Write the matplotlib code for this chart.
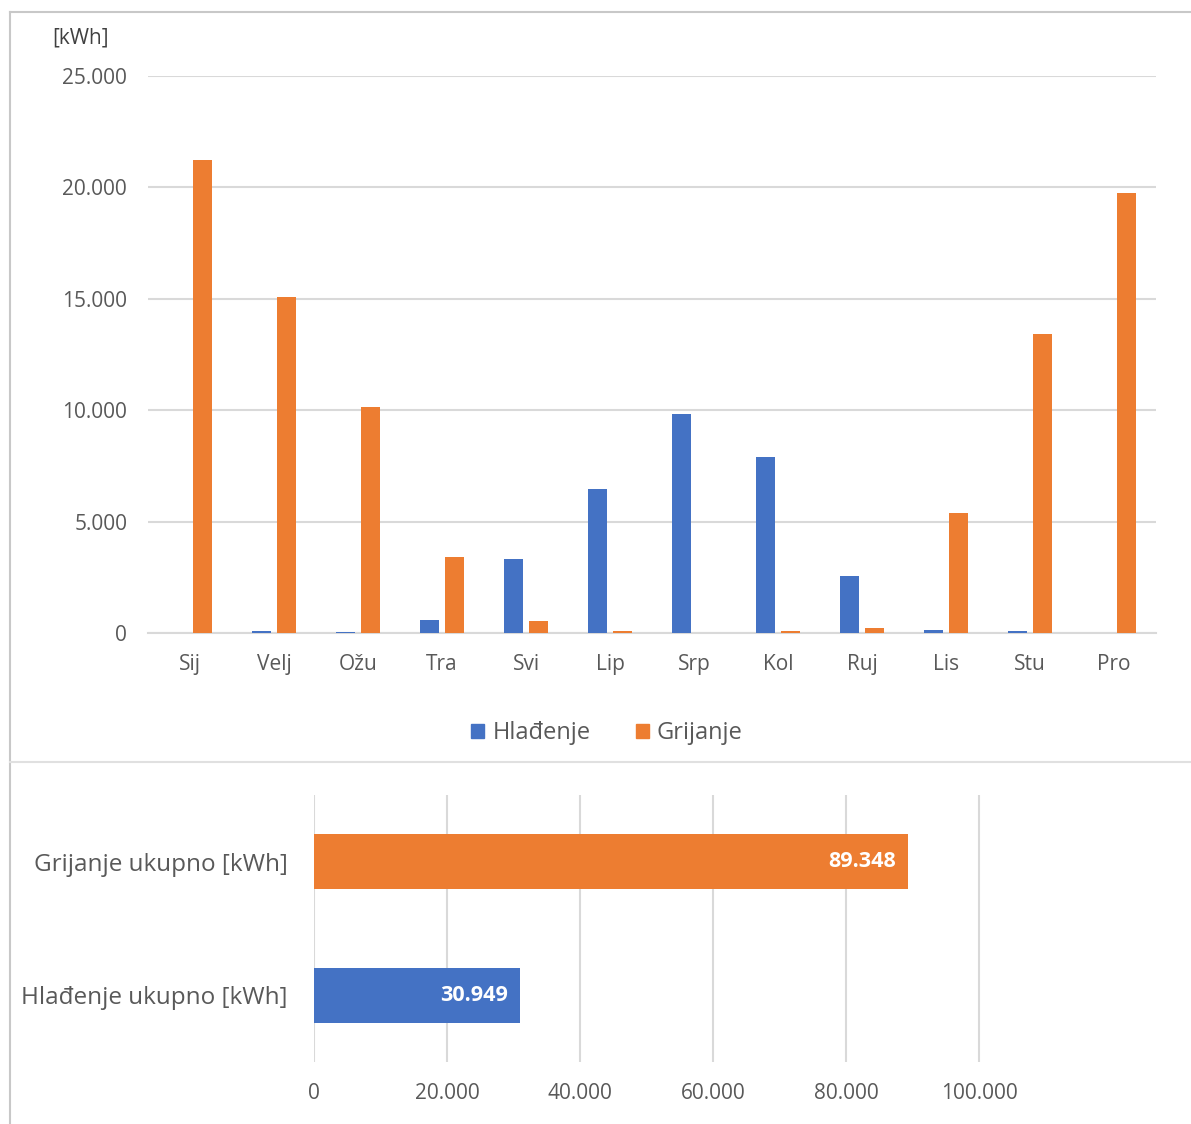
import numpy as np
import matplotlib
matplotlib.use("Agg")
import matplotlib.pyplot as plt
from matplotlib.patches import Patch
from matplotlib.lines import Line2D
from matplotlib.ticker import FuncFormatter

plt.rcParams["font.family"] = ["Open Sans", "DejaVu Sans"]

# podaci
mjeseci = ["Sij", "Velj", "Ožu", "Tra", "Svi", "Lip", "Srp", "Kol", "Ruj", "Lis", "Stu", "Pro"]
hladenje = [0, 90, 30, 580, 3320, 6450, 9820, 7880, 2560, 130, 80, 0]
grijanje = [21230, 15080, 10140, 3410, 540, 90, 0, 90, 220, 5390, 13420, 19750]
ukupno_labels = ["Hlađenje ukupno [kWh]", "Grijanje ukupno [kWh]"]
ukupno = [30949, 89348]

plava = "#4472C4"
narancasta = "#ED7D31"
siva_txt = "#595959"
grid_c = "#D9D9D9"


def tocka(x, pos=None):
    return f"{x:,.0f}".replace(",", ".")


fig = plt.figure(figsize=(11.91, 11.24), dpi=100)

# okvir
fig.add_artist(Line2D([10 / 1191, 1], [1 - 12 / 1124] * 2, color="#C8C8C8", lw=1.5))
fig.add_artist(Line2D([10 / 1191] * 2, [0, 1 - 12 / 1124], color="#C8C8C8", lw=1.5))
fig.add_artist(Line2D([10 / 1191, 1], [1 - 762 / 1124] * 2, color="#E0E0E0", lw=1.5))

# gornji graf
ax = fig.add_axes([148 / 1191, 1 - 633 / 1124, 1008 / 1191, 557 / 1124])
x = np.arange(len(mjeseci))
w = 0.22
ax.bar(x - 0.15, hladenje, w, color=plava, zorder=3)
ax.bar(x + 0.15, grijanje, w, color=narancasta, zorder=3)
ax.set_xlim(-0.5, len(mjeseci) - 0.5)
ax.set_ylim(0, 25000)
ax.set_yticks(np.arange(0, 25001, 5000))
ax.yaxis.set_major_formatter(FuncFormatter(tocka))
ax.set_xticks(x)
ax.set_xticklabels(mjeseci)
ax.grid(axis="y", color=grid_c, lw=1.5, zorder=0)
for s in ["top", "right", "left"]:
    ax.spines[s].set_visible(False)
ax.spines["bottom"].set_color(grid_c)
ax.spines["bottom"].set_linewidth(1.5)
ax.tick_params(axis="both", length=0, labelsize=15, colors=siva_txt)
ax.tick_params(axis="y", pad=15)
ax.tick_params(axis="x", pad=15)
fig.text(52 / 1191, 1 - 38 / 1124, "[kWh]", fontsize=15, color="#404040", va="center")

handles = [Patch(color=plava, label="Hlađenje"), Patch(color=narancasta, label="Grijanje")]
leg = fig.legend(handles=handles, loc="center", bbox_to_anchor=(607 / 1191, 1 - 733 / 1124),
                 ncol=2, frameon=False, fontsize=17, handlelength=0.55, handleheight=0.55,
                 handletextpad=0.35, columnspacing=1.9)
for t in leg.get_texts():
    t.set_color(siva_txt)

# donji graf
ax2 = fig.add_axes([314 / 1191, 1 - 1062 / 1124, 798 / 1191, 267 / 1124])
y = np.arange(len(ukupno))
bars = ax2.barh(y, ukupno, 0.41, color=[plava, narancasta], zorder=3)
ax2.set_xlim(0, 120000)
ax2.set_ylim(-0.5, 1.5)
ax2.set_xticks(np.arange(0, 100001, 20000))
ax2.xaxis.set_major_formatter(FuncFormatter(tocka))
ax2.set_yticks(y)
ax2.set_yticklabels(ukupno_labels, fontsize=17.5)
ax2.grid(axis="x", color=grid_c, lw=1.5, zorder=0)
for s in ax2.spines.values():
    s.set_visible(False)
ax2.tick_params(axis="both", length=0, colors=siva_txt)
ax2.tick_params(axis="x", labelsize=15, pad=15)
ax2.tick_params(axis="y", pad=19)
for b, v in zip(bars, ukupno):
    ax2.text(v - 1800, b.get_y() + b.get_height() / 2, tocka(v), ha="right", va="center",
             color="white", fontsize=15.5, fontweight="bold", zorder=4)

plt.savefig("out.png", dpi=100)
